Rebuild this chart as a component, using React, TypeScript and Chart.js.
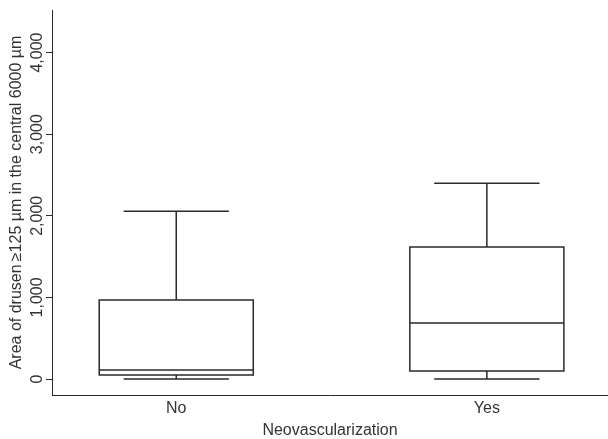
import React, { useEffect, useRef } from 'react';
import { Chart, registerables } from 'chart.js';

Chart.register(...registerables);

// ---- data ----
const categories = ['No', 'Yes'];
const positions = [1, 2];
const whiskerLow = [0, 0];
const q1 = [49, 98];
const median = [110, 685];
const q3 = [967, 1616];
const whiskerHigh = [2056, 2399];
const yTicks = [0, 1000, 2000, 3000, 4000];

const X_TITLE = 'Neovascularization';
const Y_TITLE = 'Area of drusen\u2009\u2265125 \u00b5m in the central 6000 \u00b5m';

// ---- style ----
const BOX_HALF = 0.248;
const CAP_HALF = 0.167;
const INK = '#2a2a2a';
const TEXT = '#333333';
const FAMILY = '"Liberation Sans", Arial, sans-serif';
const FONT = { family: FAMILY, size: 16 };

function boxPoints(i: number) {
  const c = positions[i];
  const gap = { x: c, y: null as number | null };
  return [
    { x: c - BOX_HALF, y: q1[i] }, { x: c + BOX_HALF, y: q1[i] },
    { x: c + BOX_HALF, y: q3[i] }, { x: c - BOX_HALF, y: q3[i] },
    { x: c - BOX_HALF, y: q1[i] }, gap,
    { x: c - BOX_HALF, y: median[i] }, { x: c + BOX_HALF, y: median[i] }, gap,
    { x: c, y: q3[i] }, { x: c, y: whiskerHigh[i] }, gap,
    { x: c - CAP_HALF, y: whiskerHigh[i] }, { x: c + CAP_HALF, y: whiskerHigh[i] }, gap,
    { x: c, y: q1[i] }, { x: c, y: whiskerLow[i] }, gap,
    { x: c - CAP_HALF, y: whiskerLow[i] }, { x: c + CAP_HALF, y: whiskerLow[i] },
  ];
}

export default function App() {
  const ref = useRef<HTMLCanvasElement | null>(null);

  useEffect(() => {
    document.body.style.margin = '0';
    const canvas = ref.current;
    if (!canvas) return;
    const chart = new Chart(canvas, {
      type: 'scatter',
      data: {
        datasets: categories.map((name, i) => ({
          label: name,
          data: boxPoints(i) as any,
          showLine: true,
          spanGaps: false,
          borderColor: INK,
          borderWidth: 1.5,
          borderJoinStyle: 'miter' as const,
          borderCapStyle: 'square' as const,
          pointRadius: 0,
          pointHoverRadius: 0,
          fill: false,
        })),
      },
      options: {
        animation: false,
        responsive: true,
        maintainAspectRatio: false,
        layout: { padding: { top: 10, right: 0, bottom: 0, left: 0 } },
        plugins: { legend: { display: false }, tooltip: { enabled: false } },
        scales: {
          x: {
            type: 'linear',
            min: 0.6,
            max: 2.39,
            afterBuildTicks: (s: any) => { s.ticks = positions.map((v) => ({ value: v })); },
            afterFit: (s: any) => { s.height = 44; },
            grid: { display: false, drawTicks: false },
            border: { display: true, color: INK, width: 1 },
            ticks: {
              font: FONT,
              color: TEXT,
              padding: 4,
              autoSkip: false,
              maxRotation: 0,
              callback: (v: any) => {
                const i = positions.indexOf(Number(v));
                return i >= 0 ? categories[i] : '';
              },
            },
            title: { display: true, text: X_TITLE, font: FONT, color: TEXT, padding: { top: 0, bottom: -1 } },
          },
          y: {
            type: 'linear',
            min: -196,
            max: 4521,
            afterBuildTicks: (s: any) => { s.ticks = yTicks.map((v) => ({ value: v })); },
            afterFit: (s: any) => { s.width = 52; },
            grid: { display: true, drawOnChartArea: false, drawTicks: true, tickLength: 6, color: INK, tickColor: INK, tickWidth: 1 },
            border: { display: true, color: INK, width: 1 },
            ticks: {
              font: FONT,
              color: TEXT,
              padding: -12,
              minRotation: 90,
              maxRotation: 90,
              crossAlign: 'center',
              callback: (v: any) => Number(v).toLocaleString('en-US'),
            },
            title: { display: true, text: Y_TITLE, font: FONT, color: TEXT, padding: { top: 6.5, bottom: 0 } },
          },
        },
      },
    });
    return () => chart.destroy();
  }, []);

  return (
    <div style={{ width: 608, height: 439, position: 'relative' }}>
      <canvas ref={ref} />
    </div>
  );
}
